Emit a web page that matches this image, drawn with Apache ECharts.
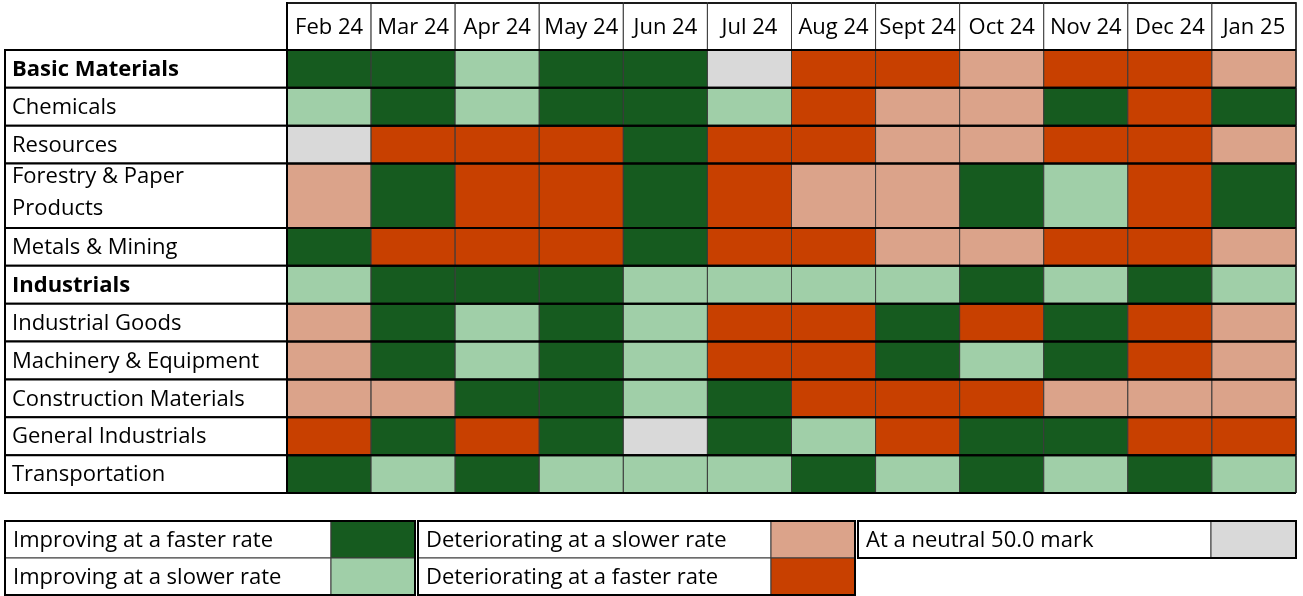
<!DOCTYPE html>
<html lang="en">
<head>
    <meta charset="UTF-8">
    <title>Sector momentum heatmap</title>
    <script src="https://cdn.jsdelivr.net/npm/echarts@6/dist/echarts.min.js"></script>
    <style>
        html, body { margin: 0; padding: 0; background: #fff; }
        #main { width: 1303px; height: 596px; }
    </style>
</head>
<body>
<div id="main"></div>
<script type="text/javascript">
    var months = ['Feb 24', 'Mar 24', 'Apr 24', 'May 24', 'Jun 24', 'Jul 24',
                  'Aug 24', 'Sept 24', 'Oct 24', 'Nov 24', 'Dec 24', 'Jan 25'];
    var sectors = ['Basic Materials', 'Chemicals', 'Resources', 'Forestry & Paper\nProducts',
                   'Metals & Mining', 'Industrials', 'Industrial Goods', 'Machinery & Equipment',
                   'Construction Materials', 'General Industrials', 'Transportation'];
    // sector headings are printed in bold
    var boldRows = ['Basic Materials', 'Industrials'];

    // 0 = neutral, 1 = improving faster, 2 = improving slower,
    // 3 = deteriorating slower, 4 = deteriorating faster
    var basicMaterials  = [1, 1, 2, 1, 1, 0, 4, 4, 3, 4, 4, 3];
    var chemicals       = [2, 1, 2, 1, 1, 2, 4, 3, 3, 1, 4, 1];
    var resources       = [0, 4, 4, 4, 1, 4, 4, 3, 3, 4, 4, 3];
    var forestryPaper   = [3, 1, 4, 4, 1, 4, 3, 3, 1, 2, 4, 1];
    var metalsMining    = [1, 4, 4, 4, 1, 4, 4, 3, 3, 4, 4, 3];
    var industrials     = [2, 1, 1, 1, 2, 2, 2, 2, 1, 2, 1, 2];
    var industrialGoods = [3, 1, 2, 1, 2, 4, 4, 1, 4, 1, 4, 3];
    var machinery       = [3, 1, 2, 1, 2, 4, 4, 1, 2, 1, 4, 3];
    var construction    = [3, 3, 1, 1, 2, 1, 4, 4, 4, 3, 3, 3];
    var generalInd      = [4, 1, 4, 1, 0, 1, 2, 4, 1, 1, 4, 4];
    var transportation  = [1, 2, 1, 2, 2, 2, 1, 2, 1, 2, 1, 2];

    var legendLabels = ['At a neutral 50.0 mark', 'Improving at a faster rate', 'Improving at a slower rate',
                        'Deteriorating at a slower rate', 'Deteriorating at a faster rate'];
    var colors = ['#d9d9d9', '#165b1f', '#a0cfa8', '#dba38a', '#c84000'];

    var rowsData = [basicMaterials, chemicals, resources, forestryPaper, metalsMining, industrials,
                    industrialGoods, machinery, construction, generalInd, transportation];

    var FONT = "'Open Sans', 'Noto Sans', sans-serif";
    var FONT_SIZE = 22;
    var HEAD_H = 1.24;      // header row height in row units
    var LINE_EXTRA = 0.7;   // extra height per wrapped label line
    var LABEL_LEFT = 5;

    // row bounds on the (inverted) value axis
    var bounds = [];
    var acc = 0;
    sectors.forEach(function (s) {
        var h = 1 + LINE_EXTRA * (s.split('\n').length - 1);
        bounds.push([acc, acc + h]);
        acc += h;
    });
    var totalH = acc;

    var cellData = [];
    rowsData.forEach(function (row, r) {
        row.forEach(function (code, m) {
            cellData.push([m, bounds[r][0], bounds[r][1], code]);
        });
    });
    var headData = months.map(function (m, i) { return [i, -HEAD_H, 0]; });
    var rowData = bounds.map(function (b, i) { return [0, b[0], b[1], i]; });

    function renderCell(params, api) {
        var a = api.coord([api.value(0), api.value(1)]);
        var b = api.coord([api.value(0), api.value(2)]);
        var w = api.size([1, 0])[0];
        return {
            type: 'rect',
            shape: {x: a[0] - w / 2, y: a[1], width: w, height: b[1] - a[1]},
            style: {fill: colors[api.value(3)], stroke: '#3a3a3a', lineWidth: 1}
        };
    }

    function renderHead(params, api) {
        var i = api.value(0);
        var a = api.coord([i, api.value(1)]);
        var b = api.coord([i, api.value(2)]);
        var w = api.size([1, 0])[0];
        var cs = params.coordSys;
        var children = [
            {type: 'rect', shape: {x: a[0] - w / 2, y: a[1], width: w, height: b[1] - a[1]},
             style: {fill: '#fff', stroke: '#3a3a3a', lineWidth: 1}},
            {type: 'text', style: {text: months[i], x: a[0], y: (a[1] + b[1]) / 2 + 1,
             align: 'center', verticalAlign: 'middle', fill: '#000', fontFamily: FONT, fontSize: FONT_SIZE}},
            {type: 'line', shape: {x1: a[0] - w / 2, y1: a[1], x2: a[0] + w / 2, y2: a[1]},
             style: {stroke: '#1a1a1a', lineWidth: 2}}
        ];
        if (i === 0) {
            children.push({type: 'line', shape: {x1: cs.x, y1: a[1] - 1, x2: cs.x, y2: b[1]},
                style: {stroke: '#000', lineWidth: 2}});
        }
        if (i === months.length - 1) {
            children.push({type: 'line', shape: {x1: cs.x + cs.width, y1: a[1] - 1, x2: cs.x + cs.width, y2: b[1]},
                style: {stroke: '#1a1a1a', lineWidth: 1.5}});
        }
        return {type: 'group', children: children};
    }

    function renderRow(params, api) {
        var r = api.value(3);
        var top = api.coord([0, api.value(1)])[1];
        var bot = api.coord([0, api.value(2)])[1];
        var cs = params.coordSys;
        var right = cs.x + cs.width;
        var bold = boldRows.indexOf(sectors[r]) >= 0;
        var lines = sectors[r].split('\n').length;
        return {
            type: 'group',
            children: [
                {type: 'rect', shape: {x: LABEL_LEFT, y: top, width: cs.x - LABEL_LEFT, height: bot - top},
                 style: {fill: '#fff'}},
                {type: 'text', style: {text: sectors[r], x: LABEL_LEFT + 7,
                 y: (top + bot) / 2 + 1 - (lines - 1) * 4,
                 align: 'left', verticalAlign: 'middle', fill: '#000', fontFamily: FONT,
                 fontSize: FONT_SIZE, fontWeight: bold ? 'bold' : 'normal', lineHeight: 32}},
                {type: 'line', shape: {x1: LABEL_LEFT - 1, y1: top, x2: right, y2: top},
                 style: {stroke: '#000', lineWidth: 2}},
                {type: 'line', shape: {x1: LABEL_LEFT - 1, y1: bot, x2: right, y2: bot},
                 style: {stroke: '#000', lineWidth: 2}},
                {type: 'line', shape: {x1: LABEL_LEFT, y1: top, x2: LABEL_LEFT, y2: bot},
                 style: {stroke: '#000', lineWidth: 2}},
                {type: 'line', shape: {x1: cs.x, y1: top, x2: cs.x, y2: bot},
                 style: {stroke: '#000', lineWidth: 2}},
                {type: 'line', shape: {x1: right, y1: top, x2: right, y2: bot},
                 style: {stroke: '#1a1a1a', lineWidth: 1.5}}
            ]
        };
    }

    // legend tables below the grid
    var legendBoxes = [
        {left: 5, right: 415, split: 331, codes: [1, 2]},
        {left: 418, right: 855, split: 771, codes: [3, 4]},
        {left: 858, right: 1296, split: 1211, codes: [0]}
    ];
    var LEGEND_TOP = 521;
    var LEGEND_ROW = 37;
    var graphics = [];
    legendBoxes.forEach(function (box) {
        box.codes.forEach(function (code, k) {
            var y = LEGEND_TOP + k * LEGEND_ROW;
            graphics.push({type: 'rect', shape: {x: box.left, y: y, width: box.split - box.left, height: LEGEND_ROW},
                style: {fill: '#fff', stroke: '#3a3a3a', lineWidth: 1}});
            graphics.push({type: 'rect', shape: {x: box.split, y: y, width: box.right - box.split, height: LEGEND_ROW},
                style: {fill: colors[code], stroke: '#3a3a3a', lineWidth: 1}});
            graphics.push({type: 'text', style: {text: legendLabels[code], x: box.left + 8, y: y + LEGEND_ROW / 2 + 1,
                align: 'left', verticalAlign: 'middle', fill: '#000', fontFamily: FONT, fontSize: FONT_SIZE}});
        });
        graphics.push({type: 'rect', shape: {x: box.left, y: LEGEND_TOP, width: box.right - box.left,
            height: LEGEND_ROW * box.codes.length}, style: {fill: 'none', stroke: '#000', lineWidth: 2}});
    });

    var myChart = echarts.init(document.getElementById('main'));
    myChart.setOption({
        animation: false,
        backgroundColor: '#fff',
        grid: {left: 287, right: 7, top: 3, bottom: 103},
        xAxis: {type: 'category', data: months, show: false},
        yAxis: {type: 'value', inverse: true, min: -HEAD_H, max: totalH, show: false},
        graphic: graphics,
        series: [
            {type: 'custom', name: 'cells', data: cellData, renderItem: renderCell, z: 2,
             encode: {x: 0, y: [1, 2]}},
            {type: 'custom', name: 'header', data: headData, renderItem: renderHead, z: 3,
             encode: {x: 0, y: [1, 2]}},
            {type: 'custom', name: 'rows', data: rowData, renderItem: renderRow, z: 4,
             encode: {x: 0, y: [1, 2]}}
        ]
    });
</script>
</body>
</html>
